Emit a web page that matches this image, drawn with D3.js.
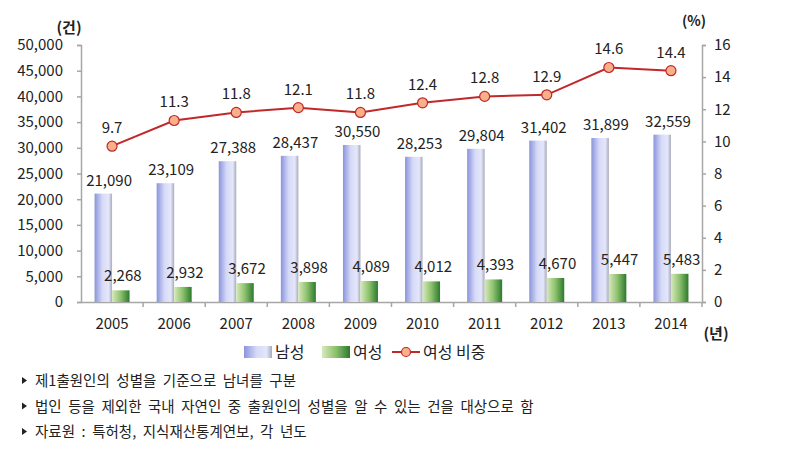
<!DOCTYPE html>
<html>
<head>
<meta charset="utf-8">
<script src="https://cdn.jsdelivr.net/npm/d3@7"></script>
<style>
  body { margin: 0; background: #fff; }
  svg text { font-family: "Noto Sans CJK KR", "Noto Sans", sans-serif; fill: #222; }
</style>
</head>
<body>
<svg id="chart" width="792" height="452"></svg>
<script>
// chart data
const years = ['2005', '2006', '2007', '2008', '2009', '2010', '2011', '2012', '2013', '2014'];
const male = [21090, 23109, 27388, 28437, 30550, 28253, 29804, 31402, 31899, 32559];
const female = [2268, 2932, 3672, 3898, 4089, 4012, 4393, 4670, 5447, 5483];
const femaleShare = [9.7, 11.3, 11.8, 12.1, 11.8, 12.4, 12.8, 12.9, 14.6, 14.4];
const leftTicks = d3.range(0, 50001, 5000);
const rightTicks = d3.range(0, 17, 2);
const legendNames = ['남성', '여성', '여성 비중'];
const notes = [
    '제1출원인의 성별을 기준으로 남녀를 구분',
    '법인 등을 제외한 국내 자연인 중 출원인의 성별을 알 수 있는 건을 대상으로 함',
    '자료원 : 특허청, 지식재산통계연보, 각 년도'
];

const svg = d3.select('#chart');
const plotLeft = 81, plotRight = 702, plotTop = 45, plotBottom = 302;

const x = d3.scaleBand().domain(years).range([plotLeft, plotRight]).padding(0);
const x1 = d3.scaleBand().domain(['male', 'female']).range([-17.5, 17.5]);
const yL = d3.scaleLinear().domain([0, 50000]).range([plotBottom, plotTop]);
const yR = d3.scaleLinear().domain([0, 16]).range([plotBottom, plotTop]);
const fmt = d3.format(',');

// gradients
const defs = svg.append('defs');
const gMale = defs.append('linearGradient').attr('id', 'gMale');
[['0%', '#8a94db'], ['45%', '#d6daf8'], ['80%', '#e4e7fa'], ['100%', '#a9abbb']]
    .forEach(s => gMale.append('stop').attr('offset', s[0]).attr('stop-color', s[1]));
const gFemale = defs.append('linearGradient').attr('id', 'gFemale');
[['0%', '#d6eabb'], ['50%', '#8cc06c'], ['100%', '#2b7a2e']]
    .forEach(s => gFemale.append('stop').attr('offset', s[0]).attr('stop-color', s[1]));

// axes
const axisColor = '#a6a6a6';
const gLeft = svg.append('g').attr('transform', `translate(${plotLeft},0)`)
    .call(d3.axisLeft(yL).tickValues(leftTicks).tickFormat(fmt).tickSize(4).tickPadding(14));
const gRight = svg.append('g').attr('transform', `translate(${plotRight},0)`)
    .call(d3.axisRight(yR).tickValues(rightTicks).tickSize(4).tickPadding(8));
const gBottom = svg.append('g').attr('transform', `translate(0,${plotBottom})`)
    .call(d3.axisBottom(x).tickSize(0).tickPadding(16));

[gLeft, gRight, gBottom].forEach(g => {
    g.selectAll('path, line').attr('stroke', axisColor).attr('stroke-width', 1.5);
    g.selectAll('text').style('font-size', '15px').attr('fill', '#222');
});

// category boundary ticks on x axis
gBottom.selectAll('.sep')
    .data(years.slice(1).concat(['end']))
    .join('line')
    .attr('class', 'sep')
    .attr('x1', d => d === 'end' ? plotRight : x(d))
    .attr('x2', d => d === 'end' ? plotRight : x(d))
    .attr('y1', 0).attr('y2', 5)
    .attr('stroke', axisColor).attr('stroke-width', 1.5);

// bars
const groups = svg.append('g').selectAll('g')
    .data(years.map((y, i) => ({ year: y, male: male[i], female: female[i] })))
    .join('g')
    .attr('transform', d => `translate(${x(d.year) + x.bandwidth() / 2},0)`);

groups.append('rect')
    .attr('x', x1('male'))
    .attr('width', x1.bandwidth())
    .attr('y', d => yL(d.male))
    .attr('height', d => plotBottom - yL(d.male))
    .attr('fill', 'url(#gMale)');

groups.append('rect')
    .attr('x', x1('female'))
    .attr('width', x1.bandwidth())
    .attr('y', d => yL(d.female))
    .attr('height', d => plotBottom - yL(d.female))
    .attr('fill', 'url(#gFemale)');

groups.append('text')
    .attr('x', -3)
    .attr('y', d => yL(d.male) - 8)
    .attr('text-anchor', 'middle')
    .style('font-size', '15px')
    .text(d => fmt(d.male));

groups.append('text')
    .attr('x', x1('female') + x1.bandwidth() / 2 + 2)
    .attr('y', d => yL(d.female) - 9)
    .attr('text-anchor', 'middle')
    .style('font-size', '15px')
    .text(d => fmt(d.female));

// share line
const lineColor = '#c0282a';
const pts = years.map((y, i) => ({ year: y, v: femaleShare[i] }));
svg.append('path')
    .datum(pts)
    .attr('fill', 'none')
    .attr('stroke', lineColor)
    .attr('stroke-width', 2)
    .attr('d', d3.line().x(d => x(d.year) + x.bandwidth() / 2).y(d => yR(d.v)));

svg.append('g').selectAll('circle')
    .data(pts)
    .join('circle')
    .attr('cx', d => x(d.year) + x.bandwidth() / 2)
    .attr('cy', d => yR(d.v))
    .attr('r', 5)
    .attr('fill', '#f7b08a')
    .attr('stroke', lineColor)
    .attr('stroke-width', 1.2);

svg.append('g').selectAll('text')
    .data(pts)
    .join('text')
    .attr('x', d => x(d.year) + x.bandwidth() / 2)
    .attr('y', d => yR(d.v) - 13)
    .attr('text-anchor', 'middle')
    .style('font-size', '15px')
    .text(d => d.v.toFixed(1));

// unit labels
svg.append('text').attr('x', 69).attr('y', 33).attr('text-anchor', 'middle')
    .style('font-size', '15px').style('font-weight', 'bold').text('(건)');
svg.append('text').attr('x', 694).attr('y', 26).attr('text-anchor', 'middle')
    .style('font-size', '14px').style('font-weight', 'bold').text('(%)');
svg.append('text').attr('x', 716).attr('y', 339).attr('text-anchor', 'middle')
    .style('font-size', '15px').style('font-weight', 'bold').text('(년)');

// legend
const legend = svg.append('g').attr('transform', 'translate(0,352)');
legend.append('rect').attr('x', 244).attr('y', -6).attr('width', 28).attr('height', 12).attr('fill', 'url(#gMale)');
legend.append('rect').attr('x', 322).attr('y', -6).attr('width', 28).attr('height', 12).attr('fill', 'url(#gFemale)');
legend.append('line').attr('x1', 392).attr('x2', 420).attr('y1', 0).attr('y2', 0)
    .attr('stroke', lineColor).attr('stroke-width', 2);
legend.append('circle').attr('cx', 406).attr('cy', 0).attr('r', 4.5)
    .attr('fill', '#f7b08a').attr('stroke', lineColor).attr('stroke-width', 1.2);
legend.selectAll('.lt')
    .data(legendNames)
    .join('text')
    .attr('class', 'lt')
    .attr('x', (d, i) => [275, 353, 423][i])
    .attr('y', 6)
    .style('font-size', '16px')
    .text(d => d);

// footnotes
const noteG = svg.append('g');
notes.forEach((n, i) => {
    const y = 386 + i * 25.5;
    noteG.append('path')
        .attr('d', `M22,${y - 9} L27,${y - 5.5} L22,${y - 2} Z`)
        .attr('fill', '#222');
    noteG.append('text')
        .attr('x', 35)
        .attr('y', y)
        .style('font-size', '14.5px')
        .style('word-spacing', '3.3px')
        .text(n);
});
</script>
</body>
</html>
